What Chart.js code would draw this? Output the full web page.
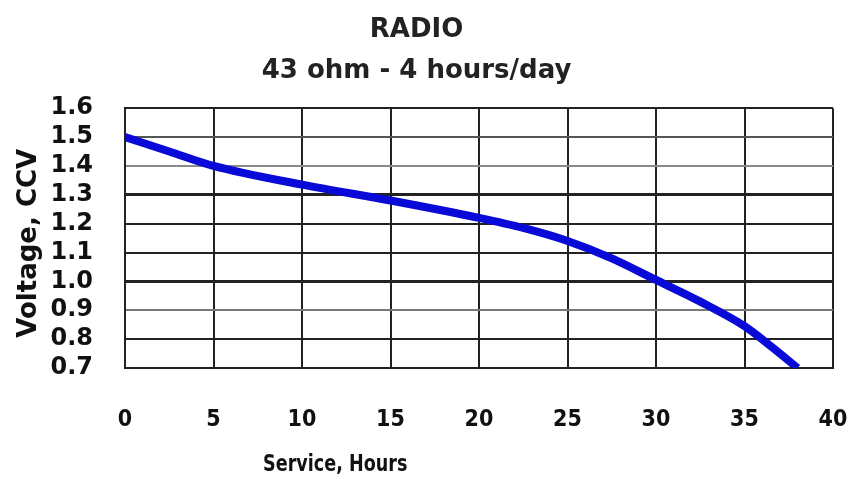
<!DOCTYPE html>
<html>
<head>
<meta charset="utf-8">
<script src="https://cdn.jsdelivr.net/npm/chart.js@4/dist/chart.umd.min.js"></script>
<style>
  html, body { margin: 0; padding: 0; background: #fff; }
  #wrap { width: 855px; height: 479px; }
</style>
</head>
<body>
<div id="wrap"><canvas id="radioChart" width="855" height="479"></canvas></div>
<script>
// service hours vs closed circuit voltage
const hours = [0, 2.5, 5, 10, 15, 20, 22.5, 25, 27.5, 30, 32.5, 35, 36.5, 38];
const voltage = [1.50, 1.45, 1.40, 1.335, 1.28, 1.22, 1.185, 1.14, 1.08, 1.005, 0.93, 0.845, 0.775, 0.70];
const titleLines = ['RADIO', '43 ohm - 4 hours/day'];
const xTitle = 'Service, Hours';
const yTitle = 'Voltage, CCV';

// some horizontal rules are lighter in the scan
const lightRows = { '1.5': '#555', '1.4': '#8a8a8a', '0.9': '#777' };

// the axis titles in the original sit off-centre, so they are drawn by hand
const axisTitles = {
  id: 'axisTitles',
  afterDraw(chart) {
    const { ctx, chartArea } = chart;
    ctx.save();
    ctx.fillStyle = '#111';
    ctx.textAlign = 'center';
    ctx.textBaseline = 'middle';

    // narrow, tall lettering like the scan
    ctx.save();
    ctx.font = 'bold 23px "DejaVu Sans Condensed"';
    ctx.translate(chartArea.left + chartArea.width * 0.297, chartArea.bottom + 97);
    ctx.scale(0.85, 1);
    ctx.fillText(xTitle, 0, 0);
    ctx.restore();

    ctx.font = 'bold 26px "DejaVu Sans"';
    ctx.translate(29, chartArea.top + chartArea.height * 0.52);
    ctx.rotate(-Math.PI / 2);
    ctx.fillText(yTitle, 0, 0);
    ctx.restore();
  }
};

const ctx = document.getElementById('radioChart').getContext('2d');
new Chart(ctx, {
  type: 'scatter',
  data: {
    datasets: [{
      data: hours.map((h, i) => ({ x: h, y: voltage[i] })),
      showLine: true,
      borderColor: '#0a0ad8',
      borderWidth: 8,
      pointRadius: 0,
      cubicInterpolationMode: 'monotone',
      borderCapStyle: 'butt'
    }]
  },
  options: {
    responsive: false,
    animation: false,
    layout: { padding: { left: 0, right: 22, top: 0, bottom: 0 } },
    plugins: {
      legend: { display: false },
      tooltip: { enabled: false },
      title: {
        display: true,
        text: titleLines,
        color: '#222',
        font: { family: 'DejaVu Sans', weight: 'bold', size: 26, lineHeight: 1.58 },
        padding: { top: 10, bottom: 16 }
      }
    },
    scales: {
      x: {
        type: 'linear',
        min: 0, max: 40,
        ticks: {
          stepSize: 5,
          autoSkip: false,
          color: '#111',
          padding: 2,
          font: { family: 'DejaVu Sans Condensed', weight: 'bold', size: 23 }
        },
        // long invisible tick marks push the labels well below the plot
        grid: { color: '#222', lineWidth: 2, drawTicks: true, tickLength: 36, tickColor: 'rgba(0,0,0,0)' },
        border: { color: '#222', width: 2 },
        afterFit: (scale) => { scale.height = 111; }
      },
      y: {
        min: 0.7, max: 1.6,
        ticks: {
          stepSize: 0.1,
          autoSkip: false,
          color: '#111',
          padding: 32,
          font: { family: 'DejaVu Sans', weight: 'bold', size: 24 },
          callback: (v) => v.toFixed(1)
        },
        grid: {
          drawTicks: false,
          color: (c) => lightRows[c.tick && c.tick.value.toFixed(1)] || '#222',
          lineWidth: (c) => {
            const v = c.tick ? c.tick.value.toFixed(1) : '';
            return (v === '1.3' || v === '1.0') ? 3 : 2;
          }
        },
        border: { color: '#222', width: 2 },
        afterFit: (scale) => { scale.width = 125; }
      }
    }
  },
  plugins: [axisTitles]
});
</script>
</body>
</html>
